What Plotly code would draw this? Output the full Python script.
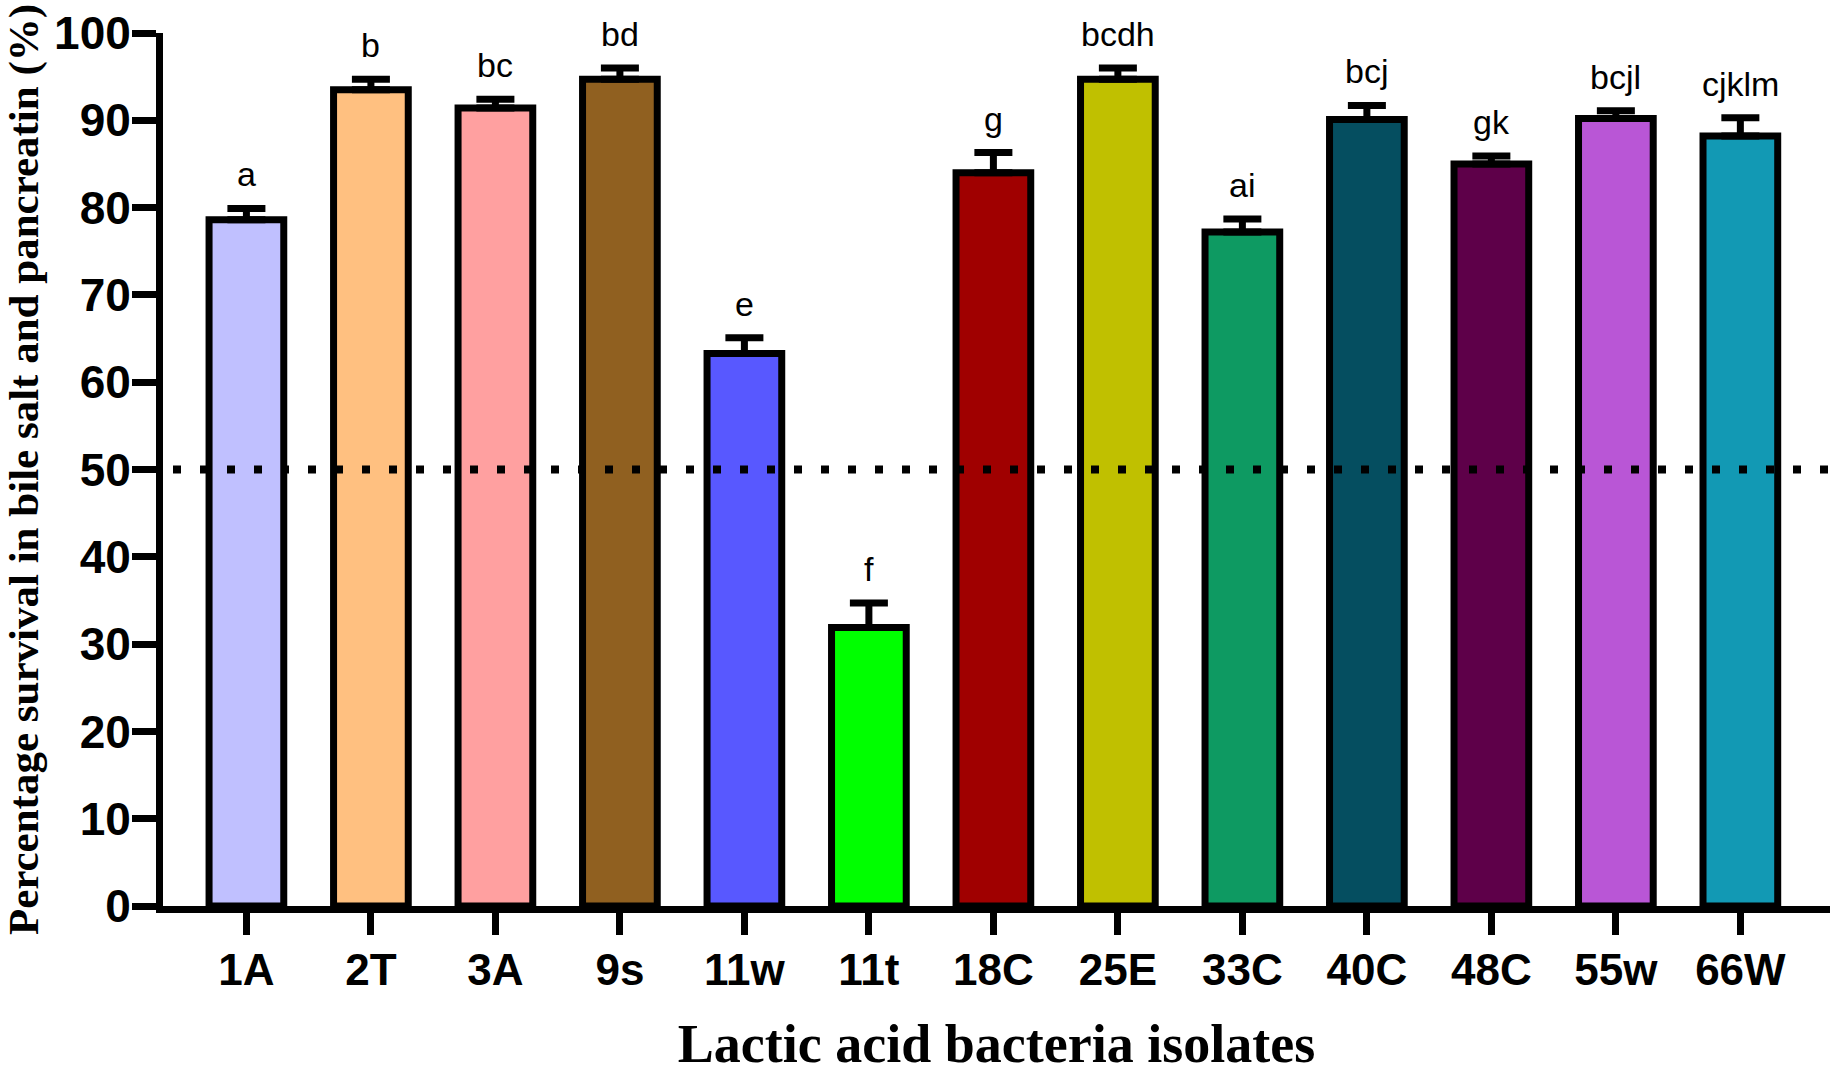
import plotly.graph_objects as go

categories = ["1A", "2T", "3A", "9s", "11w", "11t", "18C", "25E", "33C", "40C", "48C", "55w", "66W"]
values = [78.6, 93.5, 91.4, 94.7, 63.3, 31.9, 84.0, 94.7, 77.2, 90.1, 85.0, 90.2, 88.2]
errors = [1.3, 1.2, 1.0, 1.3, 1.8, 2.8, 2.3, 1.3, 1.5, 1.6, 0.9, 0.9, 2.1]
letters = ["a", "b", "bc", "bd", "e", "f", "g", "bcdh", "ai", "bcj", "gk", "bcjl", "cjklm"]
colors = ["#C0C0FF", "#FFC080", "#FFA0A0", "#906020", "#5858FF", "#00FF00", "#A00000",
          "#C0C000", "#0E9A62", "#054E60", "#5E0049", "#B956D6", "#1299B4"]
threshold = 50
y_ticks = [0, 10, 20, 30, 40, 50, 60, 70, 80, 90, 100]

SANS = "Liberation Sans, Arial, sans-serif"
SERIF = "Liberation Serif, Times New Roman, serif"

fig = go.Figure()
fig.add_trace(go.Bar(
    x=categories, y=values, width=0.6,
    marker=dict(color=colors, line=dict(color="black", width=7)),
    error_y=dict(type="data", symmetric=False, array=errors,
                 arrayminus=[0] * len(errors), color="black", thickness=7, width=19),
    hoverinfo="x+y",
))

for c, v, e, t in zip(categories, values, errors, letters):
    fig.add_annotation(x=c, y=v + e, text=t, showarrow=False, yanchor="bottom",
                       yshift=13, font=dict(family=SANS, size=34, color="black"))

fig.add_shape(type="line", xref="paper", x0=0.006, x1=1, yref="y", y0=threshold, y1=threshold,
              line=dict(color="black", width=8, dash="8px,19px"), layer="above")

fig.update_layout(
    width=1833, height=1079, autosize=False,
    margin=dict(l=163, r=3, t=33, b=173),
    paper_bgcolor="white", plot_bgcolor="white",
    showlegend=False,
    bargap=0.4,
)
fig.update_xaxes(
    type="category", range=[-0.67, 12.72], automargin=False,
    showline=True, linecolor="black", linewidth=7,
    ticks="outside", ticklen=22, tickwidth=7, tickcolor="black",
    ticklabelstandoff=-3,
    tickfont=dict(family=SANS, size=44, color="black", weight="bold"),
    showgrid=False, zeroline=False,
    title=dict(text="Lactic acid bacteria isolates",
               font=dict(family=SERIF, size=54, color="black", weight="bold"), standoff=34),
)
fig.update_yaxes(
    range=[0, 100], tickvals=y_ticks, automargin=False,
    showline=True, linecolor="black", linewidth=7,
    ticks="outside", ticklen=24, tickwidth=7, tickcolor="black",
    ticklabelstandoff=-8,
    tickfont=dict(family=SANS, size=46, color="black", weight="bold"),
    showgrid=False, zeroline=False,
    title=dict(text="Percentage survival in bile salt and pancreatin (%)",
               font=dict(family=SERIF, size=43, color="black", weight="bold"), standoff=22),
)

fig.write_html("out.html", config={"displayModeBar": False},
               post_script="document.body.style.margin='0';")
